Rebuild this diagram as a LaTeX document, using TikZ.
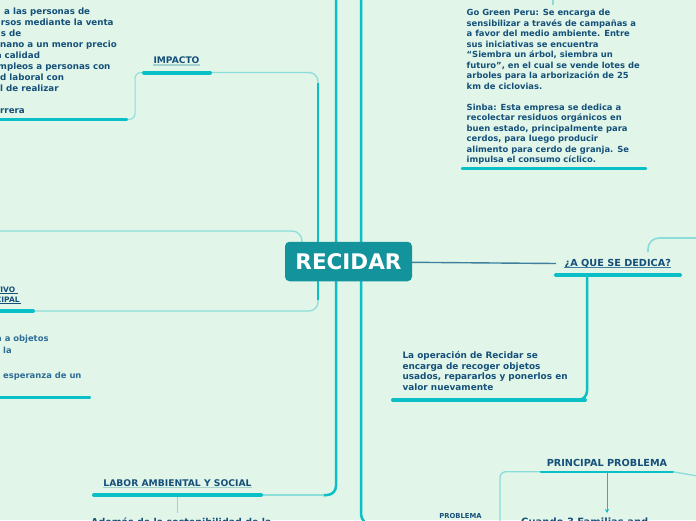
\documentclass[tikz,border=0pt]{standalone}
\usepackage{fontspec}
\setmainfont{DejaVu Sans}
\usetikzlibrary{arrows.meta}
\definecolor{bg}{HTML}{E1F6E9}
\definecolor{tealA}{HTML}{0ABFC5}
\definecolor{tealL}{HTML}{8ADDD8}
\definecolor{txt}{HTML}{15507A}
\definecolor{txtL}{HTML}{2D6D96}
\definecolor{hubc}{HTML}{13949C}
\definecolor{steel}{HTML}{3F7F9D}
\definecolor{ulL}{HTML}{A4D2CE}
\newcommand\myfs[2]{\fontsize{#1}{#2}\selectfont\bfseries}
\tikzset{
  trunk/.style={draw=tealA, line width=2.5pt},
  bar/.style={draw=tealA, line width=4pt, line cap=round},
  thinbar/.style={draw=tealA, line width=2.4pt, line cap=round},
  light/.style={draw=tealL, line width=1.3pt},
  body/.style={inner sep=0pt, anchor=north west, align=left, text=txt},
  frag/.style={inner sep=0pt, anchor=base west, text=txt, font=\myfs{8.7}{11}},
  fragL/.style={inner sep=0pt, anchor=base west, text=txtL, font=\myfs{8.4}{11}},
  title/.style={inner sep=0pt, anchor=base, text=txt},
  ulight/.style={draw=ulL, line width=1.2pt},
  udark/.style={draw=txt, line width=0.7pt},
  hubnode/.style={fill=hubc, rounded corners=4.5pt, minimum width=127pt, minimum height=39.5pt, text=white, font=\myfs{21.5}{24}, inner sep=0pt}
}
\begin{document}
\begin{tikzpicture}[x=1pt,y=-1pt]
\useasboundingbox (0,0) rectangle (696,520);
\fill[bg] (0,0) rectangle (696,520);
\clip (0,0) rectangle (696,520);

% ---------- coordinates of bar ends ----------
\coordinate (impL) at (144,72.5);
\coordinate (impR) at (210,72.5);
\coordinate (tlL) at (-3,119.5);
\coordinate (tlR) at (127,119.5);
\coordinate (objL) at (-3,311);
\coordinate (objR) at (33,311);
\coordinate (espL) at (-3,397.5);
\coordinate (espR) at (90,397.5);
\coordinate (ggL) at (462,168.5);
\coordinate (ggR) at (646,168.5);
\coordinate (dedL) at (556,275);
\coordinate (dedR) at (680,275);
\coordinate (recL) at (393,400);
\coordinate (recR) at (585,400);
\coordinate (labL) at (94,495);
\coordinate (labR) at (261,495);
\coordinate (ppL) at (541,471.7);
\coordinate (ppR) at (672.7,471.7);

% ---------- trunks and connectors ----------
\draw[trunk, rounded corners=9pt] (336,-3) -- (336,495) -- (323,495);
\draw[light] (324,495) -- (labR);
\draw[trunk, rounded corners=14pt] (361,-3) -- (361,527) -- (385,527);
\draw[light] (553,-2) -- (553,5);

\draw[light, rounded corners=9pt] (impR) -- (318,72.5) -- (318,311) -- (objR);
\draw[trunk] (318,83) -- (318,300);
\draw[light, rounded corners=10pt] (-3,231) -- (302,231) -- (302,246);
\draw[light, line width=1pt, rounded corners=6pt] (impL) -- (135,72.5) -- (135,119.5) -- (tlR);

\draw[trunk, rounded corners=9pt] (587,276) -- (587,400) -- (recR);
\draw[light, line width=1.6pt, rounded corners=11pt] (648,252) -- (648,238) -- (699,238);
\draw[light, line width=1pt] (177,497) -- (177,513);
\draw[light] (ppR) -- (699,476.3);
\draw[light, rounded corners=6pt] (ppL) -- (500,471.7) -- (500,524);
\draw[draw=tealA, line width=0.9pt, -{Stealth[length=4pt,width=4pt]}] (607,473) -- (607,513);

% ---------- bars ----------
\draw[bar] (impL) -- (impR);
\draw[thinbar] (tlL) -- (tlR);
\draw[bar] (objL) -- (objR);
\draw[thinbar] (espL) -- (espR);
\draw[thinbar] (ggL) -- (ggR);
\draw[bar] (dedL) -- (dedR);
\draw[bar] (recL) -- (recR);
\draw[bar] (labL) -- (labR);
\draw[thinbar] (ppL) -- (ppR);

% ---------- hub ----------
\node[hubnode] (hub) at (348.5,261.5) {RECIDAR};
\coordinate (dedIn) at (556,263.5);
\draw[draw=steel, line width=1.4pt] ([yshift=-0.8pt]hub.east) -- (dedIn);

% ---------- titles ----------
\node[title, font=\myfs{9.1}{11}] (imp) at (176.5,63.3) {IMPACTO};
\draw[ulight] ([yshift=-1.6pt]imp.base west) -- ([yshift=-1.6pt]imp.base east);

\node[title, anchor=base east, font=\myfs{7.5}{9}] (obj1) at (15.5,292.7) {OBJETIVO};
\node[title, anchor=base east, font=\myfs{7.5}{9}] (obj2) at (19.8,302) {PRINCIPAL};
\draw[udark] ([yshift=-1pt]obj1.base west) -- ([yshift=-1pt,xshift=2.5pt]obj1.base east);
\draw[udark] ([yshift=-1pt]obj2.base west) -- ([yshift=-1pt,xshift=1.5pt]obj2.base east);

\node[title, font=\myfs{9.7}{12}] (ded) at (617.8,266) {¿A QUE SE DEDICA?};
\draw[udark, draw=steel] ([yshift=-1.4pt]ded.base west) -- ([yshift=-1.4pt]ded.base east);

\node[title, font=\myfs{9.2}{11}] (lab) at (177.5,486) {LABOR AMBIENTAL Y SOCIAL};
\draw[ulight] ([yshift=-1.6pt]lab.base west) -- ([yshift=-1.6pt]lab.base east);

\node[title, font=\myfs{9.7}{12}] (pp) at (607,466) {PRINCIPAL PROBLEMA};
\node[title, font=\myfs{6.8}{8}] (prob) at (460.5,518.3) {PROBLEMA};

% ---------- text blocks ----------
\node[body, font=\myfs{8.4}{10.5}] (gogreen) at (466.5,9.1) {Go Green Peru: Se encarga de\\
sensibilizar a través de campañas a\\
a favor del medio ambiente. Entre\\
sus iniciativas se encuentra\\
“Siembra un árbol, siembra un\\
futuro”, en el cual se vende lotes de\\
arboles para la arborización de 25\\
km de ciclovias.\\[10.5pt]
Sinba: Esta empresa se dedica a\\
recolectar residuos orgánicos en\\
buen estado, principalmente para\\
cerdos, para luego producir\\
alimento para cerdo de granja. Se\\
impulsa el consumo cíclico.};

\node[body, font=\myfs{8.9}{10.9}] (recidar) at (402.3,350.8) {La operación de Recidar se\\
encarga de recoger objetos\\
usados, repararlos y ponerlos en\\
valor nuevamente};

\node[frag] (t1) at (4,14.9) {a las personas de};
\node[frag] (t2) at (0.7,25.9) {rsos mediante la venta};
\node[frag] (t3) at (0.7,36.8) {s de};
\node[frag] (t4) at (0,47.8) {nano a un menor precio};
\node[frag] (t5) at (-4.4,58.8) {a calidad};
\node[frag] (t6) at (-2.2,69.8) {mpleos a personas con};
\node[frag] (t7) at (0,80.7) {d laboral con};
\node[frag] (t8) at (0,91.7) {l de realizar};
\node[frag] (t9) at (0,113.6) {rrera};

\node[fragL] (b1) at (-4,341.6) {a a objetos};
\node[fragL] (b2) at (3,353.5) {la};
\node[fragL] (b3) at (3,378.5) {esperanza de un};

\node[frag, font=\myfs{9.5}{11}] (lab2) at (91,525.5) {Además de la sostenibilidad de la};
\node[frag, font=\myfs{10}{12}] (pp2) at (521,525.5) {Cuando 3 Familias and};
\end{tikzpicture}
\end{document}
